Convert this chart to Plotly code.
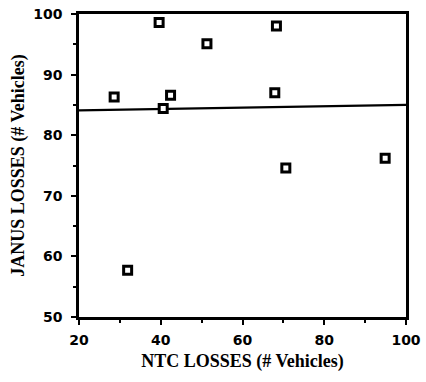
import plotly.graph_objects as go

ntc_losses = [28.6, 39.6, 51.3, 68.3, 42.4, 40.6, 67.9, 70.6, 94.9, 31.9]
janus_losses = [86.3, 98.6, 95.1, 98.0, 86.6, 84.4, 87.0, 74.6, 76.2, 57.7]
fit_x = [20, 100]
fit_y = [84.1, 85.0]
x_ticks = [20, 40, 60, 80, 100]
y_ticks = [50, 60, 70, 80, 90, 100]

fig = go.Figure()
fig.add_trace(go.Scatter(x=fit_x, y=fit_y, mode="lines",
                         line=dict(color="black", width=2.2), showlegend=False))
fig.add_trace(go.Scatter(x=ntc_losses, y=janus_losses, mode="markers",
                         marker=dict(symbol="square", size=8, color="white",
                                     line=dict(color="black", width=3)),
                         showlegend=False))

tickfont = dict(family="DejaVu Sans", size=14, color="black", weight="bold")
titlefont = dict(family="Liberation Serif", size=18, color="black", weight="bold")

fig.update_layout(
    width=426, height=382,
    margin=dict(l=79, r=20, t=14, b=65),
    paper_bgcolor="white", plot_bgcolor="white",
    xaxis=dict(range=[20, 100], tickvals=x_ticks, ticks="outside", ticklen=5,
               tickwidth=2, tickcolor="black", showgrid=False, zeroline=False,
               showline=True, linecolor="black", linewidth=2.5, mirror=True,
               tickfont=tickfont, automargin=False, ticklabelstandoff=3,
               minor=dict(dtick=10, ticks="outside", ticklen=3, tickwidth=1.5, tickcolor="black"),
               title=dict(text="NTC LOSSES (# Vehicles)", font=titlefont, standoff=8)),
    yaxis=dict(range=[50, 100], tickvals=y_ticks, ticks="outside", ticklen=5,
               tickwidth=2, tickcolor="black", showgrid=False, zeroline=False,
               showline=True, linecolor="black", linewidth=2.5, mirror=True,
               tickfont=tickfont, automargin=False, ticklabelstandoff=6,
               ticklabeloverflow="allow",
               minor=dict(dtick=5, ticks="outside", ticklen=3, tickwidth=1.5, tickcolor="black"),
               title=dict(text="JANUS LOSSES (# Vehicles)", font=titlefont, standoff=4)),
)

fig.write_html("out.html", config={"displayModeBar": False},
               post_script="document.body.style.margin='0';")
